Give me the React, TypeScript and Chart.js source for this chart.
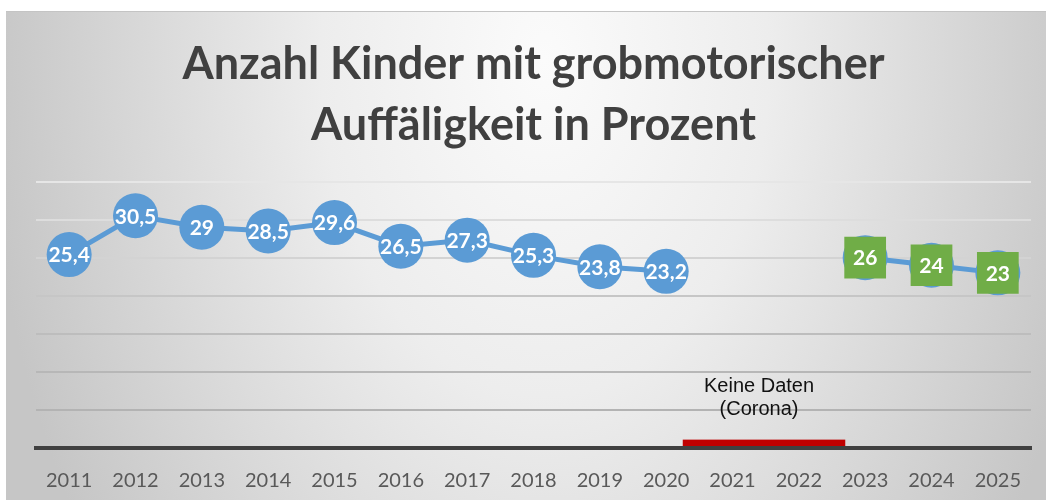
import React, { useEffect, useRef } from "react";
import { Chart, registerables } from "chart.js";

Chart.register(...registerables);

const years = ["2011","2012","2013","2014","2015","2016","2017","2018","2019","2020","2021","2022","2023","2024","2025"];
const earlyValues = [25.4, 30.5, 29, 28.5, 29.6, 26.5, 27.3, 25.3, 23.8, 23.2, null, null, null, null, null];
const recentValues = [null, null, null, null, null, null, null, null, null, null, null, null, 25, 24, 23];
const recentLabels = ["26", "24", "23"];
const titleLines = ["Anzahl Kinder mit grobmotorischer", "Auffäligkeit in Prozent"];
const noteLines = ["Keine Daten", "(Corona)"];
const yMin = 0;
const yMax = 35;
const yStep = 5;

const BLUE = "#5b9bd5";
const GREEN = "#70ad47";

const gridColors: Record<number, string> = {
  35: "#e6e6e6", 30: "#dddddd", 25: "#d3d3d3", 20: "#c6c6c6", 15: "#bdbdbd", 10: "#b7b7b7", 5: "#b3b3b3", 0: "#404040",
};

const panelPlugin = {
  id: "panel",
  beforeDraw(chart: any) {
    const ctx = chart.ctx;
    const L = 6, T = 11, R = chart.width, B = 500;
    const cx = 545, cy = 60, k = 1.5;
    ctx.save();
    ctx.fillStyle = "#ffffff";
    ctx.fillRect(0, 0, chart.width, chart.height);
    ctx.translate(cx, cy);
    ctx.scale(1, k);
    const g = ctx.createRadialGradient(0, 0, 0, 0, 0, 560);
    g.addColorStop(0, "#fbfbfb");
    g.addColorStop(0.4, "#ededed");
    g.addColorStop(1, "#c6c6c6");
    ctx.fillStyle = g;
    ctx.fillRect(L - cx, (T - cy) / k, R - L, (B - T) / k);
    ctx.restore();
    ctx.save();
    ctx.strokeStyle = "#c4c4c4";
    ctx.lineWidth = 1;
    ctx.beginPath();
    ctx.moveTo(L, T + 0.5);
    ctx.lineTo(R, T + 0.5);
    ctx.stroke();
    ctx.restore();
  },
};

const overlayPlugin = {
  id: "overlay",
  afterDatasetsDraw(chart: any) {
    const ctx = chart.ctx;
    const x = chart.scales.x;
    const y = chart.scales.y;
    ctx.save();
    // red "no data" bar
    const x0 = x.getPixelForValue(9.25);
    const x1 = x.getPixelForValue(11.7);
    const yTop = y.getPixelForValue(1.1);
    const yBot = y.getPixelForValue(0) - 2;
    ctx.fillStyle = "#c00000";
    ctx.fillRect(x0, yTop, x1 - x0, yBot - yTop);
    // note text
    ctx.fillStyle = "#111111";
    ctx.font = "20px 'Liberation Sans', Arial, sans-serif";
    ctx.textAlign = "center";
    ctx.textBaseline = "middle";
    const nx = x.getPixelForValue(10.4);
    ctx.fillText(noteLines[0], nx, y.getPixelForValue(8.1));
    ctx.fillText(noteLines[1], nx, y.getPixelForValue(5.05));
    // data labels
    ctx.fillStyle = "#ffffff";
    ctx.font = "bold 21px Lato, sans-serif";
    const m0 = chart.getDatasetMeta(2);
    m0.data.forEach((p: any, i: number) => {
      const v = earlyValues[i];
      if (v === null || v === undefined) return;
      ctx.fillText(String(v).replace(".", ","), p.x, p.y + 1);
    });
    const m2 = chart.getDatasetMeta(0);
    let j = 0;
    m2.data.forEach((p: any, i: number) => {
      const v = recentValues[i];
      if (v === null || v === undefined) return;
      ctx.fillText(recentLabels[j++], p.x, p.y + 1);
    });
    ctx.restore();
  },
};

export default function App() {
  const ref = useRef<HTMLCanvasElement>(null);
  useEffect(() => {
    if (!ref.current) return;
    const chart = new Chart(ref.current, {
      type: "line",
      data: {
        labels: years,
        datasets: [
          {
            label: "Markierung",
            data: recentValues,
            showLine: false,
            pointStyle: "rect",
            pointRadius: 29.5,
            pointBackgroundColor: GREEN,
            pointBorderWidth: 0,
            borderColor: GREEN,
            order: 0,
          },
          {
            label: "Neu",
            data: recentValues,
            borderColor: BLUE,
            borderWidth: 5,
            pointRadius: 22.5,
            pointBackgroundColor: BLUE,
            pointBorderWidth: 0,
            tension: 0,
            order: 1,
          },
          {
            label: "Alt",
            data: earlyValues,
            borderColor: BLUE,
            borderWidth: 5,
            pointRadius: 22.5,
            pointBackgroundColor: BLUE,
            pointBorderWidth: 0,
            tension: 0,
            order: 2,
          },
        ],
      },
      options: {
        responsive: false,
        animation: false,
        events: [],
        clip: false as any,
        layout: { autoPadding: false, padding: { left: 36, right: 15, top: 0, bottom: 0 } },
        plugins: {
          legend: { display: false },
          tooltip: { enabled: false },
          title: {
            display: true,
            text: titleLines,
            color: "#404040",
            font: { family: "Lato, sans-serif", size: 45, weight: "bold", lineHeight: 1.35 },
            padding: { top: 34, bottom: 26 },
          },
        },
        scales: {
          x: {
            offset: true,
            grid: { display: false, drawTicks: false },
            border: { display: true, color: "#404040", width: 4 },
            ticks: {
              color: "#595959",
              font: { family: "Lato, sans-serif", size: 20 },
              padding: 21,
              maxRotation: 0,
              autoSkip: false,
            },
            afterFit: (s: any) => {
              s.height = 54;
              s.paddingLeft = 0;
              s.paddingRight = 0;
            },
          },
          y: {
            min: yMin,
            max: yMax,
            ticks: { display: false, stepSize: yStep },
            border: { display: false },
            grid: {
              drawTicks: false,
              lineWidth: 2,
              color: (c: any) => gridColors[c.tick?.value] ?? "#c8c8c8",
            },
            afterFit: (s: any) => {
              s.width = 0;
              s.paddingTop = 0;
              s.paddingBottom = 0;
            },
          },
        },
      },
      plugins: [panelPlugin, overlayPlugin],
    });
    return () => chart.destroy();
  }, []);
  return (
    <div style={{ position: "absolute", left: 0, top: 0, width: 1046, height: 502, background: "#fff" }}>
      <canvas ref={ref} width={1046} height={502} style={{ display: "block" }} />
    </div>
  );
}
